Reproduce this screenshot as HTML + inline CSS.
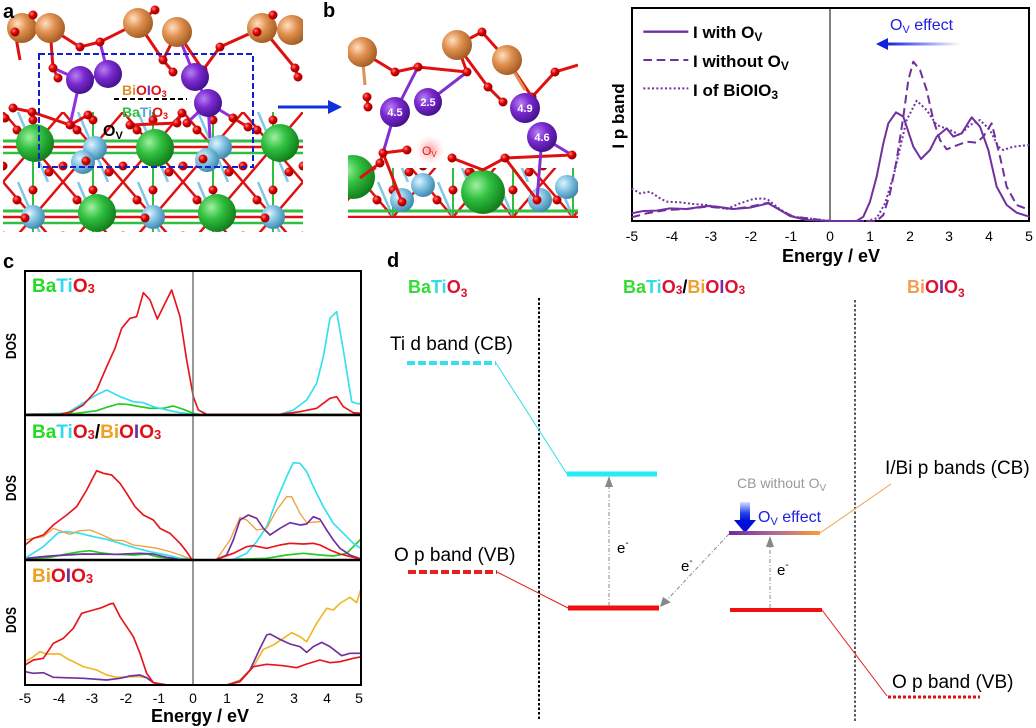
<!DOCTYPE html>
<html>
<head>
<meta charset="utf-8">
<style>
html,body{margin:0;padding:0;background:#fff;}
svg{display:block;}
text{font-family:"Liberation Sans",Arial,sans-serif;}
</style>
</head>
<body>
<svg width="1036" height="728" viewBox="0 0 1036 728" xmlns="http://www.w3.org/2000/svg">
<defs>
  <radialGradient id="gO" cx="0.35" cy="0.35" r="0.7"><stop offset="0" stop-color="#ff8080"/><stop offset="0.45" stop-color="#e00000"/><stop offset="1" stop-color="#8a0000"/></radialGradient>
  <radialGradient id="gBi" cx="0.35" cy="0.35" r="0.7"><stop offset="0" stop-color="#ffe0c0"/><stop offset="0.45" stop-color="#e09050"/><stop offset="1" stop-color="#a05a20"/></radialGradient>
  <radialGradient id="gI" cx="0.35" cy="0.35" r="0.7"><stop offset="0" stop-color="#b880f0"/><stop offset="0.45" stop-color="#7a2ad0"/><stop offset="1" stop-color="#42108a"/></radialGradient>
  <radialGradient id="gBa" cx="0.35" cy="0.35" r="0.7"><stop offset="0" stop-color="#a0f0a0"/><stop offset="0.45" stop-color="#30c040"/><stop offset="1" stop-color="#107a18"/></radialGradient>
  <radialGradient id="gTi" cx="0.35" cy="0.35" r="0.7"><stop offset="0" stop-color="#e0f4ff"/><stop offset="0.45" stop-color="#84c4e4"/><stop offset="1" stop-color="#3a86aa"/></radialGradient>
  <radialGradient id="gOv" cx="0.5" cy="0.5" r="0.5"><stop offset="0" stop-color="#ff9090" stop-opacity="0.9"/><stop offset="1" stop-color="#ffd0d0" stop-opacity="0"/></radialGradient>
  <linearGradient id="gArrL" x1="1" y1="0" x2="0" y2="0"><stop offset="0" stop-color="#ffffff"/><stop offset="1" stop-color="#1020e0"/></linearGradient>
  <linearGradient id="gArrD" x1="0" y1="0" x2="0" y2="1"><stop offset="0" stop-color="#d8e0ff"/><stop offset="0.6" stop-color="#2040f0"/><stop offset="1" stop-color="#0010d0"/></linearGradient>
  <linearGradient id="gCB0" x1="0" y1="0" x2="1" y2="0"><stop offset="0" stop-color="#c4b4d8"/><stop offset="1" stop-color="#f6d8b4"/></linearGradient>
  <linearGradient id="gCB1" x1="0" y1="0" x2="1" y2="0"><stop offset="0" stop-color="#6a2aa0"/><stop offset="0.5" stop-color="#b06a9a"/><stop offset="1" stop-color="#f8a030"/></linearGradient>
  <linearGradient id="gCB2" x1="0" y1="0" x2="1" y2="0"><stop offset="0" stop-color="#6a30a0"/><stop offset="1" stop-color="#f0a040"/></linearGradient>
  <pattern id="latA" x="3" y="112" width="60" height="70" patternUnits="userSpaceOnUse">
    <line x1="0" y1="0" x2="60" y2="70" stroke="#e01010" stroke-width="2.5"/>
    <line x1="60" y1="0" x2="0" y2="70" stroke="#e01010" stroke-width="2.5"/>
    <line x1="15" y1="0" x2="45" y2="70" stroke="#80c8e8" stroke-width="2.5"/>
    <line x1="30" y1="0" x2="30" y2="70" stroke="#30c040" stroke-width="2"/>
    <line x1="0" y1="29" x2="60" y2="29" stroke="#30c040" stroke-width="3"/>
    <line x1="0" y1="35" x2="60" y2="35" stroke="#e01010" stroke-width="2.5"/>
    <line x1="0" y1="41" x2="60" y2="41" stroke="#30c040" stroke-width="2.5"/>
    <circle cx="30" cy="8" r="4.5" fill="url(#gO)"/>
    <circle cx="0" cy="54" r="4.5" fill="url(#gO)"/>
    <circle cx="60" cy="54" r="4.5" fill="url(#gO)"/>
    <circle cx="14" cy="18" r="4.5" fill="url(#gO)"/>
    <circle cx="46" cy="60" r="4.5" fill="url(#gO)"/>
  </pattern>
  <clipPath id="clipA"><rect x="3" y="0" width="300" height="232"/></clipPath>
  <clipPath id="clipB"><rect x="348" y="22" width="230" height="196"/></clipPath>
</defs>

<!-- ================= Panel a ================= -->
<g clip-path="url(#clipA)">
  <rect x="3" y="112" width="300" height="120" fill="url(#latA)"/>
  <circle cx="35" cy="143" r="19" fill="url(#gBa)"/>
  <circle cx="155" cy="148" r="19" fill="url(#gBa)"/>
  <circle cx="280" cy="143" r="19" fill="url(#gBa)"/>
  <circle cx="97" cy="213" r="19" fill="url(#gBa)"/>
  <circle cx="217" cy="213" r="19" fill="url(#gBa)"/>
  <circle cx="95" cy="148" r="12" fill="url(#gTi)"/>
  <circle cx="83" cy="162" r="12" fill="url(#gTi)"/>
  <circle cx="220" cy="147" r="12" fill="url(#gTi)"/>
  <circle cx="207" cy="160" r="12" fill="url(#gTi)"/>
  <circle cx="33" cy="217" r="12" fill="url(#gTi)"/>
  <circle cx="153" cy="217" r="12" fill="url(#gTi)"/>
  <circle cx="273" cy="217" r="12" fill="url(#gTi)"/>
  <circle cx="86" cy="161" r="4.5" fill="url(#gO)"/>
  <circle cx="203" cy="159" r="4.5" fill="url(#gO)"/>
  <circle cx="25" cy="218" r="4.5" fill="url(#gO)"/>
  <circle cx="145" cy="218" r="4.5" fill="url(#gO)"/>
  <circle cx="265" cy="218" r="4.5" fill="url(#gO)"/>
  <g stroke="#e01010" stroke-width="3" fill="none">
    <polyline points="22,28 33,15"/>
    <polyline points="15,32 22,28 50,28 80,47 100,42 138,23 155,10"/>
    <polyline points="138,23 163,60 177,32 203,70 220,47 262,28 295,68 298,77"/>
    <polyline points="262,28 273,15"/>
    <polyline points="53,68 58,78"/>
    <polyline points="163,60 173,72"/>
    <polyline points="13,108 32,112 70,125 88,115"/>
    <polyline points="130,125 177,123 182,113"/>
    <polyline points="233,118 248,127"/>
    <polyline points="50,28 53,68"/>
    <polyline points="15,32 20,60"/>
  </g>
  <g stroke="#9030e0" stroke-width="3" fill="none">
    <polyline points="53,68 80,80 108,74 100,42"/>
    <polyline points="80,80 70,125"/>
    <polyline points="177,32 195,77 208,103 187,123"/>
    <polyline points="208,103 210,138"/>
    <polyline points="208,103 233,118"/>
    <polyline points="195,77 203,70"/>
  </g>
  <g stroke="#e09050" stroke-width="3"><line x1="22" y1="28" x2="50" y2="28"/><line x1="262" y1="28" x2="292" y2="30"/></g>
  <circle cx="22" cy="28" r="15" fill="url(#gBi)"/>
  <circle cx="50" cy="28" r="15" fill="url(#gBi)"/>
  <circle cx="138" cy="23" r="15" fill="url(#gBi)"/>
  <circle cx="177" cy="32" r="15" fill="url(#gBi)"/>
  <circle cx="262" cy="28" r="15" fill="url(#gBi)"/>
  <circle cx="292" cy="30" r="15" fill="url(#gBi)"/>
  <g fill="url(#gO)">
    <circle cx="33" cy="15" r="4.5"/><circle cx="15" cy="32" r="4.5"/><circle cx="80" cy="47" r="4.5"/>
    <circle cx="100" cy="42" r="4.5"/><circle cx="53" cy="68" r="4.5"/><circle cx="58" cy="78" r="4.5"/>
    <circle cx="163" cy="60" r="4.5"/><circle cx="155" cy="10" r="4.5"/><circle cx="220" cy="47" r="4.5"/>
    <circle cx="203" cy="70" r="4.5"/><circle cx="173" cy="72" r="4.5"/><circle cx="295" cy="68" r="4.5"/>
    <circle cx="298" cy="77" r="4.5"/><circle cx="273" cy="15" r="4.5"/><circle cx="257" cy="32" r="4.5"/>
    <circle cx="13" cy="108" r="4.5"/><circle cx="32" cy="112" r="4.5"/><circle cx="88" cy="115" r="4.5"/>
    <circle cx="70" cy="125" r="4.5"/><circle cx="130" cy="125" r="4.5"/><circle cx="177" cy="123" r="4.5"/>
    <circle cx="233" cy="118" r="4.5"/><circle cx="248" cy="127" r="4.5"/><circle cx="182" cy="113" r="4.5"/>
    <circle cx="5" cy="118" r="4.5"/><circle cx="187" cy="123" r="4.5"/>
  </g>
  <circle cx="80" cy="80" r="14" fill="url(#gI)"/>
  <circle cx="108" cy="74" r="14" fill="url(#gI)"/>
  <circle cx="195" cy="77" r="14" fill="url(#gI)"/>
  <circle cx="208" cy="103" r="14" fill="url(#gI)"/>
</g>
<rect x="39" y="54" width="214" height="113" fill="none" stroke="#1020d0" stroke-width="2" stroke-dasharray="6 3"/>
<text x="122" y="95" font-size="14" font-weight="bold"><tspan fill="#d89030">Bi</tspan><tspan fill="#e01010">O</tspan><tspan fill="#8030c0">I</tspan><tspan fill="#e01010">O<tspan font-size="9" dy="2">3</tspan></tspan></text>
<line x1="114" y1="99" x2="187" y2="99" stroke="#000" stroke-width="2" stroke-dasharray="5 3"/>
<text x="122" y="117" font-size="14" font-weight="bold"><tspan fill="#30c040">Ba</tspan><tspan fill="#50a8d8">Ti</tspan><tspan fill="#e01010">O<tspan font-size="9" dy="2">3</tspan></tspan></text>
<text x="103" y="136" font-size="16" font-weight="bold" fill="#000">O<tspan font-size="11" dy="3">V</tspan></text>
<text x="3" y="18" font-size="20" font-weight="bold">a</text>
<text x="323" y="17" font-size="20" font-weight="bold">b</text>

<line x1="278" y1="107" x2="330" y2="107" stroke="#1030e0" stroke-width="3"/>
<polygon points="342,107 328,100 328,114" fill="#1030e0"/>

<!-- ================= Panel b ================= -->
<g clip-path="url(#clipB)">
  <rect x="348" y="160" width="230" height="60" fill="url(#latA)"/>
  <rect x="348" y="160" width="230" height="8" fill="#fff"/>
  <circle cx="353" cy="177" r="22" fill="url(#gBa)"/>
  <circle cx="483" cy="192" r="22" fill="url(#gBa)"/>
  <circle cx="402" cy="200" r="12" fill="url(#gTi)"/>
  <circle cx="423" cy="185" r="12" fill="url(#gTi)"/>
  <circle cx="540" cy="200" r="12" fill="url(#gTi)"/>
  <circle cx="567" cy="187" r="12" fill="url(#gTi)"/>
  <g stroke="#e01010" stroke-width="3" fill="none">
    <polyline points="362,52 395,72 418,67 467,72 457,45 482,32 507,60 532,97 555,72 578,65"/>
    <polyline points="457,45 488,87 503,102"/>
    <polyline points="367,97 368,107"/>
    <polyline points="383,153 380,163 360,178"/>
    <polyline points="383,153 407,150"/>
    <polyline points="452,158 483,170 505,158 572,155"/>
    <polyline points="402,202 383,153"/>
    <polyline points="537,200 505,158"/>
  </g>
  <g stroke="#8030d0" stroke-width="3" fill="none">
    <polyline points="395,112 418,67"/><polyline points="428,102 467,72"/><polyline points="395,112 383,153"/>
    <polyline points="525,108 532,97"/><polyline points="542,137 537,200"/><polyline points="542,137 572,155"/>
  </g>
  <g stroke="#e09050" stroke-width="3"><line x1="362" y1="52" x2="365" y2="85"/><line x1="507" y1="60" x2="525" y2="90"/></g>
  <circle cx="362" cy="52" r="15" fill="url(#gBi)"/>
  <circle cx="457" cy="45" r="15" fill="url(#gBi)"/>
  <circle cx="507" cy="60" r="15" fill="url(#gBi)"/>
  <g fill="url(#gO)">
    <circle cx="482" cy="32" r="4.5"/><circle cx="418" cy="67" r="4.5"/><circle cx="395" cy="72" r="4.5"/>
    <circle cx="467" cy="72" r="4.5"/><circle cx="488" cy="87" r="4.5"/><circle cx="503" cy="102" r="4.5"/>
    <circle cx="532" cy="97" r="4.5"/><circle cx="555" cy="72" r="4.5"/><circle cx="367" cy="97" r="4.5"/>
    <circle cx="368" cy="107" r="4.5"/><circle cx="407" cy="150" r="4.5"/><circle cx="383" cy="153" r="4.5"/>
    <circle cx="380" cy="163" r="4.5"/><circle cx="452" cy="158" r="4.5"/><circle cx="505" cy="158" r="4.5"/>
    <circle cx="572" cy="155" r="4.5"/><circle cx="402" cy="202" r="4.5"/><circle cx="537" cy="200" r="4.5"/>
  </g>
  <circle cx="395" cy="112" r="15" fill="url(#gI)"/>
  <circle cx="428" cy="102" r="14" fill="url(#gI)"/>
  <circle cx="525" cy="108" r="15" fill="url(#gI)"/>
  <circle cx="542" cy="137" r="15" fill="url(#gI)"/>
  <g font-size="11" font-weight="bold" fill="#fff" text-anchor="middle">
    <text x="395" y="116">4.5</text><text x="428" y="106">2.5</text><text x="525" y="112">4.9</text><text x="542" y="141">4.6</text>
  </g>
  <circle cx="430" cy="150" r="15" fill="url(#gOv)"/>
  <text x="422" y="155" font-size="12" fill="#e02020">O<tspan font-size="8" dy="2">V</tspan></text>
</g>

<!-- ================= Top-right panel ================= -->
<rect x="632" y="8" width="397" height="213" fill="none" stroke="#000" stroke-width="2"/>
<line x1="830" y1="8" x2="830" y2="221" stroke="#000" stroke-width="1"/>
<g transform="translate(600 0) scale(0.33333)" fill="none" stroke="#7030a0" stroke-linejoin="round">
  <polyline stroke-width="6" points="95,640 130,633 170,632 210,625 260,627 320,618 350,620 400,627 450,623 505,610 540,630 570,648 620,660 690,663 770,663 790,650 810,605 830,530 850,430 865,370 888,337 910,350 940,440 963,477 990,450 1010,410 1040,385 1060,410 1085,400 1115,352 1140,380 1165,450 1190,560 1220,615 1250,638 1288,650"/>
  <polyline stroke-width="6" stroke-dasharray="26 14" points="95,652 140,640 200,630 260,627 320,620 400,627 450,620 505,608 540,630 580,650 690,663 830,663 850,645 870,580 890,480 910,350 925,240 940,185 960,210 980,270 1000,360 1020,420 1040,448 1060,440 1100,425 1130,428 1150,410 1175,370 1200,470 1220,560 1250,615 1288,630"/>
  <polyline stroke-width="6" stroke-dasharray="6 7" points="95,565 120,580 150,575 180,595 200,605 240,607 280,612 320,615 380,627 420,610 460,597 490,595 505,600 540,628 580,650 690,663 800,663 830,655 855,610 880,530 900,445 920,360 950,302 980,330 1010,375 1050,390 1080,405 1110,375 1140,360 1170,390 1195,440 1210,450 1240,440 1288,435"/>
  <line x1="130" y1="95" x2="265" y2="95" stroke-width="7"/>
  <line x1="130" y1="180" x2="265" y2="180" stroke-width="6" stroke-dasharray="26 14"/>
  <line x1="130" y1="265" x2="265" y2="265" stroke-width="6" stroke-dasharray="6 7"/>
</g>
<g font-size="17" font-weight="bold" fill="#000">
  <text x="693" y="38">I with O<tspan font-size="12" dy="3">V</tspan></text>
  <text x="693" y="67">I without O<tspan font-size="12" dy="3">V</tspan></text>
  <text x="693" y="96">I of BiOIO<tspan font-size="12" dy="3">3</tspan></text>
</g>
<text x="890" y="30" font-size="16" fill="#2020e0">O<tspan font-size="11" dy="3">V</tspan><tspan dy="-3"> effect</tspan></text>
<rect x="886" y="42.5" width="74" height="3" fill="url(#gArrL)"/>
<polygon points="876,44 888,38 888,50" fill="#1020e0"/>
<text transform="translate(624 116) rotate(-90)" text-anchor="middle" font-size="17" font-weight="bold">I p band</text>
<g font-size="14" text-anchor="middle" fill="#000">
  <text x="632" y="241">-5</text><text x="672" y="241">-4</text><text x="711" y="241">-3</text><text x="751" y="241">-2</text>
  <text x="791" y="241">-1</text><text x="830" y="241">0</text><text x="870" y="241">1</text><text x="910" y="241">2</text>
  <text x="949" y="241">3</text><text x="989" y="241">4</text><text x="1029" y="241">5</text>
</g>
<text x="831" y="262" text-anchor="middle" font-size="18" font-weight="bold">Energy / eV</text>

<!-- ================= Panel c ================= -->
<text x="3" y="268" font-size="20" font-weight="bold">c</text>
<g fill="none" stroke-linejoin="round" stroke-width="5">
  <g transform="translate(0 250) scale(0.33333)">
    <polyline stroke="#22cc22" points="75,493 230,490 290,482 320,472 355,462 380,463 420,470 450,475 490,475 520,468 550,478 580,490 600,493 1085,493"/>
    <polyline stroke="#33e0f0" points="75,493 200,490 240,465 280,440 320,420 360,440 400,455 430,458 460,470 500,480 540,488 580,493 620,493 840,493 880,480 920,450 950,400 970,320 990,205 1010,185 1030,300 1055,455 1075,462 1085,458"/>
    <polyline stroke="#e8141c" points="75,493 180,493 215,485 250,465 290,420 320,350 345,295 365,235 390,205 410,200 430,128 450,150 472,207 495,160 515,120 540,200 560,330 580,440 595,480 620,493 840,493 900,485 950,475 990,445 1010,440 1030,470 1060,488 1085,490"/>
  </g>
  <g transform="translate(0 400) scale(0.33333)">
    <polyline stroke="#22cc22" points="75,478 150,472 200,462 240,455 270,452 300,458 340,463 400,465 440,462 470,470 520,477 560,478"/>
    <polyline stroke="#22cc22" points="700,478 800,475 860,465 910,460 960,465 1000,468 1040,460 1060,440 1085,415"/>
    <polyline stroke="#7030a0" points="75,475 150,468 250,462 350,463 420,460 460,462 500,472 540,477"/>
    <polyline stroke="#33e0f0" points="75,475 130,440 175,398 200,395 240,400 280,410 320,418 360,430 410,445 450,455 500,465 540,475 575,478"/>
    <polyline stroke="#33e0f0" points="700,478 740,460 770,425 800,380 830,300 860,230 880,188 900,190 920,215 940,260 970,320 1000,370 1030,400 1060,430 1085,447"/>
    <polyline stroke="#f0a040" stroke-width="4" points="75,420 100,415 130,410 160,385 210,403 240,392 270,390 300,402 340,420 370,422 400,435 440,440 470,445 510,455 540,465 575,478"/>
    <polyline stroke="#f0a040" stroke-width="4" points="650,478 690,420 720,352 740,360 770,390 800,385 830,330 860,290 875,290 900,340 920,368 960,365"/>
    <polyline stroke="#7030a0" points="650,478 680,465 700,420 720,360 745,345 770,355 790,385 810,405 840,385 870,368 900,375 920,372 940,350 960,358 980,390 1000,420 1020,445 1050,465 1085,478"/>
    <polyline stroke="#e8141c" points="75,435 100,415 130,405 160,375 200,345 230,320 260,270 290,212 310,220 335,225 360,250 380,280 405,320 430,345 460,360 480,385 510,400 540,430 560,455 575,478"/>
    <polyline stroke="#e8141c" points="650,478 700,460 740,440 760,437 800,445 840,435 870,430 910,432 940,430 960,435 990,450 1020,462 1060,472 1085,478"/>
  </g>
  <g transform="translate(0 480) scale(0.33333)">
    <polyline stroke="#f0b828" points="75,545 100,530 120,515 140,522 180,522 200,535 250,560 290,570 320,585 350,592 400,590 420,590 440,593"/>
    <polyline stroke="#f0b828" points="680,615 720,600 760,560 790,508 820,495 850,475 875,458 900,470 920,485 950,430 980,385 1000,390 1020,370 1050,352 1070,368 1085,320"/>
    <polyline stroke="#7030a0" points="75,575 100,580 130,578 160,592 250,595 320,600 360,595 390,588 420,585 440,593 460,608 500,615"/>
    <polyline stroke="#7030a0" points="680,615 720,603 750,570 780,505 800,465 810,462 840,478 870,492 900,500 920,517 940,500 965,487 990,500 1025,527 1050,520 1085,520"/>
    <polyline stroke="#e8141c" points="75,555 100,540 130,535 160,490 190,475 220,445 245,400 280,390 305,383 330,372 340,370 360,410 380,440 400,470 420,520 440,580 460,608 500,615 680,615 720,605 760,560 800,553 850,557 890,563 920,552 960,540 990,548 1020,545 1060,535 1085,530"/>
  </g>
</g>
<line x1="193" y1="271" x2="193" y2="685" stroke="#777" stroke-width="1.5"/>
<rect x="25" y="271" width="336" height="414" fill="none" stroke="#000" stroke-width="2"/>
<line x1="25" y1="415" x2="361" y2="415" stroke="#000" stroke-width="2.5"/>
<line x1="25" y1="560" x2="361" y2="560" stroke="#000" stroke-width="2.5"/>
<g font-size="19" font-weight="bold">
  <text x="32" y="292"><tspan fill="#22dd22">Ba</tspan><tspan fill="#33d8ee">Ti</tspan><tspan fill="#e01018">O<tspan font-size="13" dy="1">3</tspan></tspan></text>
  <text x="32" y="438"><tspan fill="#22dd22">Ba</tspan><tspan fill="#33d8ee">Ti</tspan><tspan fill="#e01018">O<tspan font-size="13" dy="1">3</tspan></tspan><tspan fill="#000" dy="-1">/</tspan><tspan fill="#f0a020">Bi</tspan><tspan fill="#e01018">O</tspan><tspan fill="#7030a0">I</tspan><tspan fill="#e01018">O<tspan font-size="13" dy="1">3</tspan></tspan></text>
  <text x="32" y="582"><tspan fill="#f0a020">Bi</tspan><tspan fill="#e01018">O</tspan><tspan fill="#7030a0">I</tspan><tspan fill="#e01018">O<tspan font-size="13" dy="1">3</tspan></tspan></text>
</g>
<g font-size="15" font-weight="bold" text-anchor="middle">
  <text transform="translate(16 346) rotate(-90)" textLength="26" lengthAdjust="spacingAndGlyphs">DOS</text>
  <text transform="translate(16 488) rotate(-90)" textLength="26" lengthAdjust="spacingAndGlyphs">DOS</text>
  <text transform="translate(16 620) rotate(-90)" textLength="26" lengthAdjust="spacingAndGlyphs">DOS</text>
</g>
<g font-size="14" text-anchor="middle">
  <text x="25" y="703">-5</text><text x="59" y="703">-4</text><text x="92" y="703">-3</text><text x="126" y="703">-2</text>
  <text x="159" y="703">-1</text><text x="193" y="703">0</text><text x="227" y="703">1</text><text x="260" y="703">2</text>
  <text x="294" y="703">3</text><text x="327" y="703">4</text><text x="359" y="703">5</text>
</g>
<text x="200" y="722" text-anchor="middle" font-size="18" font-weight="bold">Energy / eV</text>

<!-- ================= Panel d ================= -->
<text x="387" y="267" font-size="20" font-weight="bold">d</text>
<g font-size="18" font-weight="bold">
  <text x="408" y="293"><tspan fill="#33dd33">Ba</tspan><tspan fill="#33dde8">Ti</tspan><tspan fill="#dd1133">O<tspan font-size="12" dy="4">3</tspan></tspan></text>
  <text x="623" y="293"><tspan fill="#33dd33">Ba</tspan><tspan fill="#33dde8">Ti</tspan><tspan fill="#dd1133">O<tspan font-size="12" dy="1">3</tspan></tspan><tspan fill="#000" dy="-1">/</tspan><tspan fill="#f0a030">Bi</tspan><tspan fill="#dd1133">O</tspan><tspan fill="#7030a0">I</tspan><tspan fill="#dd1133">O<tspan font-size="12" dy="1">3</tspan></tspan></text>
  <text x="907" y="293"><tspan fill="#f0a050">Bi</tspan><tspan fill="#dd1133">O</tspan><tspan fill="#7030a0">I</tspan><tspan fill="#dd1133">O<tspan font-size="12" dy="4">3</tspan></tspan></text>
</g>
<line x1="539" y1="298" x2="539" y2="720" stroke="#000" stroke-width="2" stroke-dasharray="2.5 2"/>
<line x1="855" y1="300" x2="855" y2="722" stroke="#000" stroke-width="1.3" stroke-dasharray="2.5 2"/>

<g font-size="19" fill="#000">
  <text x="390" y="350">Ti d band (CB)</text>
  <text x="394" y="561">O p band (VB)</text>
  <text x="885" y="474">I/Bi p bands (CB)</text>
  <text x="892" y="688">O p band (VB)</text>
</g>
<line x1="407" y1="363" x2="496" y2="363" stroke="#33e0f0" stroke-width="4" stroke-dasharray="8 3"/>
<line x1="496" y1="363" x2="567" y2="474" stroke="#33dde8" stroke-width="1"/>
<line x1="567" y1="474" x2="657" y2="474" stroke="#22eef8" stroke-width="5"/>
<line x1="408" y1="572" x2="497" y2="572" stroke="#e82020" stroke-width="4" stroke-dasharray="8 3"/>
<line x1="497" y1="572" x2="568" y2="608" stroke="#e02020" stroke-width="1"/>
<line x1="568" y1="608" x2="659" y2="608" stroke="#f01010" stroke-width="5"/>

<text x="737" y="488" font-size="14" fill="#999">CB without O<tspan font-size="10" dy="3">V</tspan></text>
<line x1="727" y1="494" x2="819" y2="494" stroke="url(#gCB0)" stroke-width="4"/>
<rect x="740" y="502" width="10" height="19" fill="url(#gArrD)"/>
<polygon points="734,520 756,520 745,533" fill="#0010d8"/>
<text x="758" y="522" font-size="16" fill="#2020e0">O<tspan font-size="11" dy="3">V</tspan><tspan dy="-3"> effect</tspan></text>
<rect x="729" y="531" width="91" height="4" fill="url(#gCB1)"/>
<line x1="820" y1="533" x2="891" y2="484" stroke="#f0a050" stroke-width="1"/>
<line x1="892" y1="484" x2="982" y2="484" stroke="url(#gCB2)" stroke-width="3" stroke-dasharray="3 2"/>
<line x1="730" y1="610" x2="822" y2="610" stroke="#f01010" stroke-width="4"/>
<line x1="822" y1="610" x2="887" y2="696" stroke="#e02020" stroke-width="1"/>
<line x1="888" y1="697" x2="980" y2="697" stroke="#e01010" stroke-width="3" stroke-dasharray="3 2"/>

<g stroke="#888" stroke-width="1" stroke-dasharray="4 2 1 2" fill="none">
  <line x1="609" y1="606" x2="609" y2="485"/>
  <line x1="729" y1="534" x2="666" y2="601"/>
  <line x1="770" y1="608" x2="770" y2="545"/>
</g>
<g fill="#888">
  <polygon points="609,476 605,487 613,487"/>
  <polygon points="660,607 670.8,602.4 663,597"/>
  <polygon points="770,536 766,547 774,547"/>
</g>
<g font-size="15" fill="#000">
  <text x="617" y="553">e<tspan font-size="10" dy="-7">-</tspan></text>
  <text x="681" y="571">e<tspan font-size="10" dy="-7">-</tspan></text>
  <text x="777" y="575">e<tspan font-size="10" dy="-7">-</tspan></text>
</g>
</svg>
</body>
</html>
